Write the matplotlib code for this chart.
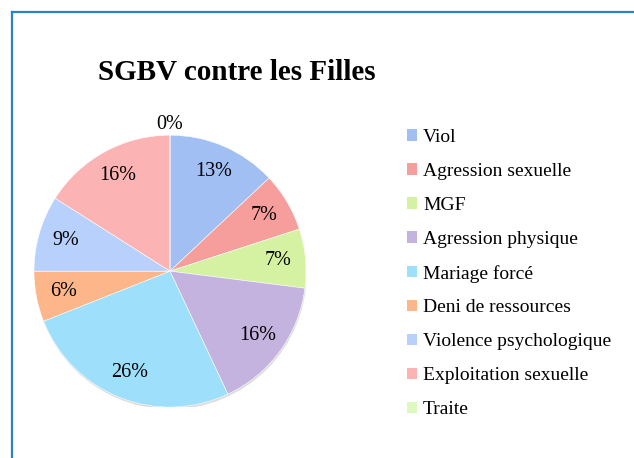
import matplotlib
matplotlib.use('Agg')
import matplotlib.pyplot as plt
from matplotlib.patches import Patch, Circle
from matplotlib.lines import Line2D
import numpy as np

plt.rcParams['font.family'] = ['Liberation Serif', 'DejaVu Serif']

categories = ['Viol', 'Agression sexuelle', 'MGF', 'Agression physique',
              'Mariage forcé', 'Deni de ressources', 'Violence psychologique',
              'Exploitation sexuelle', 'Traite']
values = [13, 7, 7, 16, 26, 6, 9, 16, 0]
colors = ['#A2BFF4', '#F59E9C', '#D5F2A2', '#C4B3DE', '#9EE0FB',
          '#FCB68A', '#B7D0FC', '#FCB3B4', '#DDF8C0']

fig = plt.figure(figsize=(6.34, 4.58), dpi=100)

# blue frame on top and left
frame_col = '#2A83C9'
fig.add_artist(Line2D([12/634, 1], [1 - 12/458, 1 - 12/458], color=frame_col, lw=1.6))
fig.add_artist(Line2D([12/634, 12/634], [0, 1 - 12/458], color=frame_col, lw=1.6))

fig.text(237/634, 1 - 72/458, 'SGBV contre les Filles', ha='center', va='center',
         fontsize=21, fontweight='bold')

ax = fig.add_axes([0.0536, 0.111, 0.429, 0.594])
# soft shadow under the pie
ax.add_patch(Circle((0.005, -0.015), 1.0, facecolor='#BBBBBB', edgecolor='none',
                    alpha=0.5, zorder=0))
wedges, texts, autotexts = ax.pie(values, colors=colors, startangle=90,
                                  counterclock=False, autopct='%1.0f%%',
                                  pctdistance=0.8,
                                  wedgeprops=dict(edgecolor='white', linewidth=0.4),
                                  textprops=dict(fontsize=14.5))
for v, t in zip(values, autotexts):
    if v == 0:
        t.set_position((0, 1.08))
ax.set_xlim(-1.0, 1.0)
ax.set_ylim(-1.0, 1.0)
ax.set_aspect('equal')
ax.axis('off')

handles = [Patch(facecolor=c, edgecolor='none') for c in colors]
fig.legend(handles, categories, loc='upper left',
           bbox_to_anchor=(407/634, 1 - 129/458), frameon=False,
           fontsize=14, handlelength=0.52, handleheight=0.52,
           handletextpad=0.3, labelspacing=0.87, borderpad=0, borderaxespad=0)

fig.savefig('out.png', dpi=100)
